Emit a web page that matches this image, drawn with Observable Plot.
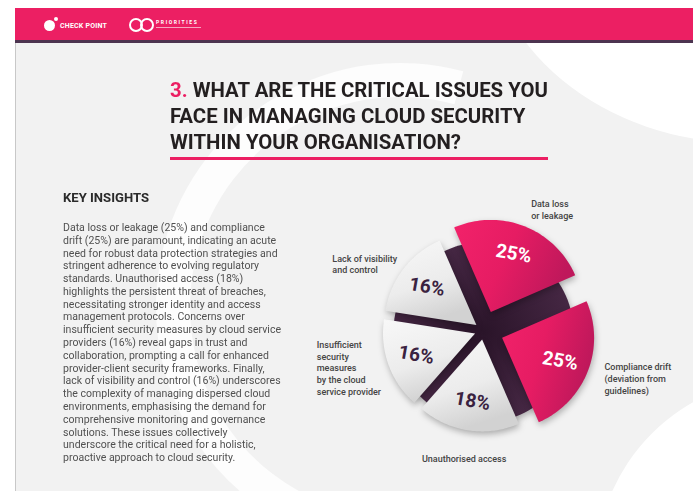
<!DOCTYPE html>
<html><head><meta charset="utf-8">
<script src="https://cdn.jsdelivr.net/npm/d3@7"></script>
<script src="https://cdn.jsdelivr.net/npm/@observablehq/plot@0.6"></script>
<style>
html,body{margin:0;padding:0;}
body{width:693px;height:491px;position:relative;overflow:hidden;background:#fff;font-family:Roboto,"Open Sans",sans-serif;}
#page{position:absolute;left:15px;top:43px;width:678px;height:448px;background:#f2f2f2;border-left:1.5px solid #c8c8c8;overflow:hidden;}
.shape{position:absolute;background:#fff;}
#bar{position:absolute;left:15px;top:8px;width:678px;height:32px;background:#ec1f63;}
#barline{position:absolute;left:15px;top:40px;width:678px;height:3px;background:#4d3450;}
#cp-icon{position:absolute;left:44px;top:20px;width:11px;height:11px;border-radius:50%;background:#fff;}
#cp-dot{position:absolute;left:54px;top:17px;width:4px;height:4px;border-radius:50%;background:#fff;}
#cp-text{position:absolute;left:60px;top:22px;font:700 7px Roboto,sans-serif;color:#fff;letter-spacing:0.2px;}
.pr-ring{position:absolute;border:2px solid #fff;border-radius:50%;}
#pr-text{position:absolute;left:156px;top:19px;font:700 5px Roboto,sans-serif;color:#fff;letter-spacing:1.6px;}
#pr-sub{position:absolute;left:156px;top:27px;width:45px;height:1px;background:rgba(255,255,255,0.6);}
#title{position:absolute;left:170px;top:77px;font:700 21px Roboto,sans-serif;line-height:26px;color:#231f20;transform-origin:0 0;white-space:nowrap;}
#title span.n{color:#ec1f63;}
#rule{position:absolute;left:170px;top:157px;width:378px;height:3px;background:#ec1f63;}
#kh{position:absolute;left:63px;top:191px;font:700 13.3px Roboto,sans-serif;line-height:1;color:#2b2b2b;transform-origin:0 0;white-space:nowrap;}
#body{position:absolute;left:63px;top:222px;font:400 10px Roboto,sans-serif;line-height:12.78px;color:#505050;white-space:nowrap;transform-origin:0 0;}
#chart{position:absolute;left:300px;top:185px;width:393px;height:300px;}
</style></head>
<body>
<div id="page">
  <div class="shape" style="left:470px;top:-330px;width:520px;height:430px;border-radius:50%;"></div>
  <div class="shape" style="left:580px;top:335px;width:380px;height:380px;border-radius:50%;"></div>
  <div style="position:absolute;left:140px;top:20px;width:420px;height:420px;border-radius:50%;border:34px solid transparent;border-left-color:rgba(255,255,255,0.85);border-top-color:rgba(255,255,255,0.85);transform:rotate(-30deg);background:transparent;"></div>
</div>
<div id="bar"></div>
<div id="barline"></div>
<div id="cp-icon"></div><div id="cp-dot"></div>
<div id="cp-text">CHECK POINT</div>
<div class="pr-ring" style="left:129px;top:18px;width:10px;height:10px;"></div>
<div class="pr-ring" style="left:140px;top:18px;width:10px;height:10px;"></div>
<div id="pr-text">PRIORITIES</div><div id="pr-sub"></div>
<div id="title"><span id="t1"><span class="n">3.</span> WHAT ARE THE CRITICAL ISSUES YOU</span><br>FACE IN MANAGING CLOUD SECURITY<br>WITHIN YOUR ORGANISATION?</div>
<div id="rule"></div>
<div id="kh">KEY INSIGHTS</div>
<div id="body">Data loss or leakage (25%) and compliance<br>drift (25%) are paramount, indicating an acute<br>need for robust data protection strategies and<br>stringent adherence to evolving regulatory<br>standards. Unauthorised access (18%)<br>highlights the persistent threat of breaches,<br>necessitating stronger identity and access<br>management protocols. Concerns over<br><span id="l9">insufficient security measures by cloud service</span><br>providers (16%) reveal gaps in trust and<br>collaboration, prompting a call for enhanced<br>provider-client security frameworks. Finally,<br>lack of visibility and control (16%) underscores<br>the complexity of managing dispersed cloud<br>environments, emphasising the demand for<br>comprehensive monitoring and governance<br>solutions. These issues collectively<br>underscore the critical need for a holistic,<br>proactive approach to cloud security.</div>
<div id="chart"></div>
<script>
// ---- data ----
const categories = ["Data loss or leakage", "Compliance drift (deviation from guidelines)", "Unauthorised access", "Insufficient security measures by the cloud service provider", "Lack of visibility and control"];
const values = [25, 25, 18, 16, 16];
const labelText = ["Data loss\nor leakage", "Compliance drift\n(deviation from\nguidelines)", "Unauthorised access", "Insufficient\nsecurity\nmeasures\nby the cloud\nservice provider", "Lack of visibility\nand control"];
const highlighted = [true, true, false, false, false];

// ---- fit text widths ----
function scaleFor(el, target){ return target / el.getBoundingClientRect().width; }
document.getElementById("title").style.transform = `scaleX(${scaleFor(document.getElementById("t1"), 378)})`;
document.getElementById("kh").style.transform = `scaleX(${scaleFor(document.getElementById("kh"), 86)})`;
document.getElementById("body").style.transform = `scaleX(${scaleFor(document.getElementById("l9"), 218)})`;

// ---- chart geometry ----
const W = 393, H = 300, CX = 183, CY = 145, R = 92;
const deg = Math.PI / 180;
const start = -23.5 * deg;
const arcs = d3.pie().sort(null).startAngle(start).endAngle(start + 2 * Math.PI)(values);
const ctx = document.createElement("canvas").getContext("2d");
ctx.font = "500 9px Roboto";
const slices = arcs.map((a, i) => {
  const mid = (a.startAngle + a.endAngle) / 2;
  const hl = highlighted[i];
  const ePx = hl ? 20 : 9;
  const e = ePx / R;
  const ox = e * Math.sin(mid), oy = e * Math.cos(mid);
  const s = Math.sin(mid);
  const side = s > 0.3 ? "right" : s < -0.3 ? "left" : "bottom";
  const gap = side === "left" ? 8 : side === "bottom" ? 24 : 18;
  const lr = (R + ePx + gap) / R;
  let lx = lr * Math.sin(mid), ly = lr * Math.cos(mid);
  if (side === "left") {
    const w = d3.max(labelText[i].split("\n"), l => ctx.measureText(l).width);
    lx -= w / R;
  }
  return {i, category: categories[i], value: values[i], hl, a0: a.startAngle, a1: a.endAngle, mid, ox, oy,
    tx: ox + 0.68 * Math.sin(mid), ty: oy + 0.68 * Math.cos(mid), lx, ly, side, label: labelText[i]};
});
const pts = [];
for (const s of slices) {
  pts.push({id: s.i, hl: s.hl, x: s.ox, y: s.oy});
  const n = 60;
  for (let k = 0; k <= n; k++) {
    const a = s.a0 + (s.a1 - s.a0) * k / n;
    pts.push({id: s.i, hl: s.hl, x: s.ox + Math.sin(a), y: s.oy + Math.cos(a)});
  }
}
const disc = d3.range(0, 121).map(k => { const a = 2 * Math.PI * k / 120; return {x: 0.98 * Math.sin(a), y: 0.98 * Math.cos(a) - 0.02}; });

const chart = Plot.plot({
  width: W, height: H, margin: 0,
  x: {domain: [-CX / R, (W - CX) / R], axis: null},
  y: {domain: [-(H - CY) / R, CY / R], axis: null},
  style: {background: "transparent", overflow: "visible", fontFamily: "Roboto, sans-serif"},
  marks: [
    Plot.line(disc, {x: "x", y: "y", fill: "url(#discGrad)", stroke: "none", curve: "linear-closed"}),
    Plot.line(pts.filter(d => !d.hl), {x: "x", y: "y", z: "id", fill: "url(#grayGrad)", stroke: "none", curve: "linear-closed"}),
    Plot.line(pts.filter(d => d.hl), {x: "x", y: "y", z: "id", fill: "url(#pinkGrad)", stroke: "none", curve: "linear-closed"}),
    Plot.text(slices.filter(d => d.hl), {x: "tx", y: "ty", text: d => d.value + "%", fill: "#ffffff", fontSize: 19, fontWeight: 700, rotate: 10}),
    Plot.text(slices.filter(d => !d.hl), {x: "tx", y: "ty", text: d => d.value + "%", fill: "#3a2240", fontSize: 19, fontWeight: 700, rotate: 10}),
    Plot.text(slices.filter(d => d.side !== "bottom"), {x: "lx", y: "ly", text: "label", textAnchor: "start", lineAnchor: "middle", fontSize: 9, fontWeight: 500, fill: "#444444", lineHeight: 1.3}),
    Plot.text(slices.filter(d => d.side === "bottom"), {x: "lx", y: "ly", text: "label", textAnchor: "middle", lineAnchor: "top", fontSize: 9, fontWeight: 500, fill: "#444444", lineHeight: 1.3})
  ]
});
const svg = d3.select(chart);
const defs = svg.insert("defs", ":first-child");
const pg = defs.append("linearGradient").attr("id", "pinkGrad").attr("x1", 0).attr("y1", 0).attr("x2", 1).attr("y2", 0.35);
pg.append("stop").attr("offset", 0).attr("stop-color", "#f2226a");
pg.append("stop").attr("offset", 0.5).attr("stop-color", "#e61c63");
pg.append("stop").attr("offset", 1).attr("stop-color", "#bf185b");
const gg = defs.append("linearGradient").attr("id", "grayGrad").attr("x1", 0).attr("y1", 0).attr("x2", 0.35).attr("y2", 1);
gg.append("stop").attr("offset", 0).attr("stop-color", "#f8f8f8");
gg.append("stop").attr("offset", 0.6).attr("stop-color", "#ececec");
gg.append("stop").attr("offset", 1).attr("stop-color", "#d2d2d2");
const dg = defs.append("radialGradient").attr("id", "discGrad");
dg.append("stop").attr("offset", 0).attr("stop-color", "#2a1429");
dg.append("stop").attr("offset", 1).attr("stop-color", "#452743");
svg.selectAll("g[aria-label=line] path").style("filter", "drop-shadow(1px 3px 3px rgba(0,0,0,0.28))");
document.getElementById("chart").appendChild(chart);
</script>
</body></html>
